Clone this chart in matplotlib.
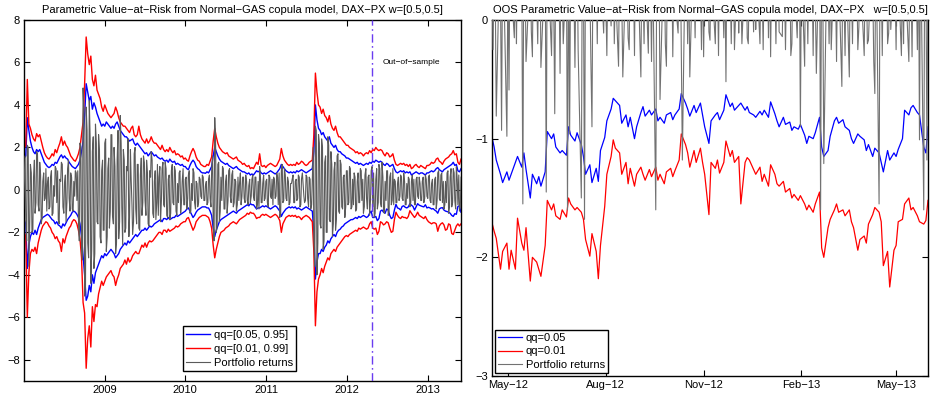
import numpy as np
import pandas as pd
import matplotlib
matplotlib.use('Agg')
import matplotlib.pyplot as plt
import matplotlib.dates as mdates
from matplotlib.ticker import FixedLocator, FuncFormatter

plt.rcParams['font.family'] = ['Liberation Sans', 'DejaVu Sans']
plt.rcParams['axes.unicode_minus'] = True

# ---------------- Left panel: weekly values (Fridays from 2008-01-04) ----------------
b_up = [
    # 2008
    1.5, 1.6, 3.4, 2.8,  2.3, 2.0, 1.8, 1.7, 1.9,  1.8, 1.9, 1.7, 1.5,  1.3, 1.2, 1.1, 1.05,
    1.1, 1.2, 1.15, 1.3, 1.25,  1.4, 1.55, 1.65, 1.5,  1.6, 1.5, 1.45, 1.3, 1.2,  1.1, 1.05, 1.0, 1.1,
    1.2, 1.4, 1.8, 2.3,  3.5, 5.0, 4.6, 4.2, 4.4,  3.8, 4.1, 3.9, 3.6,  3.4, 3.2, 3.0, 3.1,
    # 2009
    3.0, 3.2, 3.1, 3.0, 2.9,  3.0, 2.9, 3.1, 3.2,  3.0, 2.8, 2.7, 2.6,  2.5, 2.5, 2.4, 2.3,
    2.35, 2.4, 2.2, 2.1, 2.2,  2.1, 2.0, 1.9, 1.8,  1.7, 1.75, 1.6, 1.7, 1.8,  1.7, 1.6, 1.65, 1.55,
    1.5, 1.45, 1.5, 1.4,  1.35, 1.4, 1.3, 1.45, 1.35,  1.3, 1.35, 1.2, 1.25,  1.2, 1.15, 1.2, 1.1,
    # 2010
    1.1, 1.0, 0.95, 1.15, 1.3,  1.4, 1.3, 1.1, 1.0,  0.95, 0.85, 0.8, 0.8,  0.78, 0.85, 0.8, 0.95, 1.1,
    1.6, 2.0, 1.8, 1.6,  1.45, 1.35, 1.3, 1.25,  1.2, 1.25, 1.15, 1.1, 1.05,  1.0, 1.05, 1.1, 1.0,
    0.95, 0.9, 0.85, 0.85,  0.8, 0.75, 0.8, 0.7, 0.75,  0.7, 0.8, 0.9, 0.85,  0.9, 0.8, 0.75, 0.8, 0.75,
    # 2011
    0.8, 0.85, 0.9, 0.85,  0.8, 0.75, 0.8, 0.9,  1.0, 1.2, 1.1, 1.0,  0.9, 0.85, 0.8, 0.85, 0.8,
    0.85, 0.8, 0.9, 0.85,  0.9, 0.95, 0.9, 0.85,  0.8, 0.85, 0.9, 0.95, 1.0,  1.8, 4.0, 3.3, 2.9,
    2.8, 2.6, 2.7, 2.5, 2.4,  2.3, 2.5, 2.2, 2.1,  2.0, 2.1, 1.9, 1.8,  1.8, 1.7, 1.65, 1.6, 1.5,
    # 2012
    1.5, 1.45, 1.4, 1.35,  1.3, 1.25, 1.3, 1.2,  1.25, 1.2, 1.15, 1.2, 1.25,  1.2, 1.3, 1.25, 1.35,
    1.3, 1.4, 1.35, 1.3,  1.35, 1.3, 1.2, 1.15, 1.25,  1.2, 1.1, 1.15, 1.2,  1.0, 0.85, 0.8, 0.85, 0.9,
    0.85, 0.9, 0.8, 0.85,  0.8, 0.85, 0.7, 0.75,  0.8, 0.85, 0.8, 0.75, 0.8,  0.8, 0.75, 0.7, 0.8,
    # 2013
    0.8, 0.85, 0.9, 0.85,  0.9, 1.0, 1.05, 0.95,  0.9, 0.85, 0.95, 1.0, 1.05,  1.1, 1.15, 1.2, 1.3,
    1.15, 1.2, 0.9, 0.85, 1.0,
]

r_up = [
    # 2008
    1.95, 2.1, 5.2, 3.1,  2.9, 2.6, 2.4, 2.3, 2.65,  2.5, 2.6, 2.3, 2.0,  1.75, 1.6, 1.5, 1.45,
    1.55, 1.7, 1.6, 1.9, 1.75,  2.0, 2.2, 2.5, 2.1,  2.3, 2.1, 2.0, 1.8, 1.6,  1.5, 1.4, 1.35, 1.5,
    1.7, 2.0, 2.6, 3.2,  5.0, 7.2, 6.4, 5.9, 6.3,  5.2, 4.9, 5.4, 4.7,  4.5, 4.3, 3.9, 3.7,
    # 2009
    4.0, 3.8, 3.6, 3.5, 3.4,  3.5, 3.6, 3.9, 3.7,  3.4, 3.2, 3.1, 3.0,  3.0, 2.9, 2.8, 2.7,
    2.9, 3.0, 2.6, 2.5, 2.6,  3.0, 2.6, 2.4, 2.3,  2.2, 2.4, 2.2, 2.3, 2.5,  2.3, 2.2, 2.2, 2.1,
    2.0, 1.9, 2.1, 1.9,  1.8, 1.9, 1.8, 2.0, 1.85,  1.75, 1.85, 1.65, 1.7,  1.65, 1.55, 1.6, 1.45,
    # 2010
    1.5, 1.4, 1.35, 1.6, 1.8,  1.95, 1.8, 1.55, 1.4,  1.35, 1.2, 1.15, 1.1,  1.1, 1.2, 1.15, 1.35, 1.55,
    2.3, 2.9, 2.5, 2.2,  2.0, 1.9, 1.8, 1.75,  1.7, 1.75, 1.6, 1.55, 1.5,  1.45, 1.5, 1.55, 1.4,
    1.35, 1.3, 1.2, 1.25,  1.15, 1.1, 1.15, 1.0, 1.05,  1.0, 1.15, 1.3, 1.2,  1.7, 1.15, 1.1, 1.15, 1.05,
    # 2011
    1.15, 1.2, 1.25, 1.2,  1.15, 1.1, 1.15, 1.3,  1.45, 1.95, 1.6, 1.4,  1.3, 1.2, 1.15, 1.2, 1.15,
    1.2, 1.15, 1.3, 1.2,  1.25, 1.35, 1.3, 1.2,  1.15, 1.2, 1.3, 1.35, 1.4,  2.6, 5.5, 4.6, 4.0,
    3.9, 3.6, 3.8, 3.5, 3.4,  3.2, 3.5, 3.1, 2.9,  2.8, 3.0, 2.7, 2.5,  2.5, 2.4, 2.3, 2.2, 2.1,
    # 2012
    2.1, 2.0, 1.95, 1.9,  1.85, 1.75, 1.8, 1.7,  1.75, 1.7, 1.6, 1.7, 1.75,  1.7, 1.85, 1.75, 1.9,
    1.85, 2.0, 1.9, 1.85,  1.9, 1.85, 1.7, 1.6, 1.75,  1.7, 1.55, 1.6, 1.7,  1.4, 1.2, 1.15, 1.2, 1.25,
    1.2, 1.25, 1.15, 1.2,  1.1, 1.2, 1.0, 1.05,  1.15, 1.2, 1.1, 1.05, 1.15,  1.1, 1.05, 1.0, 1.15,
    # 2013
    1.15, 1.2, 1.3, 1.25,  1.3, 1.45, 1.5, 1.35,  1.3, 1.2, 1.35, 1.45, 1.5,  1.55, 1.65, 1.7, 1.85,
    1.65, 1.7, 1.3, 1.2, 1.45,
]

b_lo = [
    # 2008
    -1.4, -1.6, -3.7, -2.6,  -2.2, -2.0, -2.1, -1.9, -2.1,  -1.8, -1.6, -1.4, -1.3,  -1.25, -1.2, -1.15, -1.2,
    -1.3, -1.4, -1.45, -1.6, -1.5,  -1.65, -1.7, -1.8, -1.6,  -1.7, -1.55, -1.4, -1.3, -1.2,  -1.05, -1.0, -1.05, -1.15,
    -1.3, -1.6, -2.2, -3.1,  -4.0, -5.2, -5.0, -4.5, -4.8,  -4.0, -4.4, -3.9, -3.7,  -3.5, -3.3, -3.1, -3.2,
    # 2009
    -3.0, -3.1, -3.0, -2.9, -2.8,  -2.9, -3.0, -3.2, -3.1,  -3.0, -2.8, -2.7, -2.6,  -2.5, -2.6, -2.4, -2.5,
    -2.4, -2.3, -2.2, -2.1, -2.2,  -2.1, -2.0, -1.9, -1.9,  -1.8, -1.9, -1.8, -1.7, -1.75,  -1.7, -1.6, -1.55, -1.5,
    -1.45, -1.4, -1.5, -1.35,  -1.35, -1.4, -1.3, -1.4, -1.35,  -1.3, -1.3, -1.2, -1.25,  -1.2, -1.15, -1.1, -1.05,
    # 2010
    -1.0, -0.9, -0.85, -1.0, -1.15,  -1.3, -1.2, -1.05, -0.95,  -0.9, -0.85, -0.8, -0.8,  -0.8, -0.85, -0.85, -1.0, -1.2,
    -1.8, -2.2, -1.9, -1.7,  -1.5, -1.4, -1.35, -1.3,  -1.25, -1.2, -1.15, -1.1, -1.05,  -1.0, -1.05, -1.1, -1.0,
    -0.95, -0.9, -0.85, -0.8,  -0.75, -0.7, -0.75, -0.65, -0.7,  -0.7, -0.8, -0.9, -0.85,  -0.85, -0.8, -0.75, -0.8, -0.75,
    # 2011
    -0.8, -0.85, -0.9, -0.85,  -0.8, -0.75, -0.8, -0.9,  -1.0, -1.25, -1.1, -1.0,  -0.9, -0.85, -0.8, -0.85, -0.8,
    -0.85, -0.8, -0.9, -0.85,  -0.9, -0.95, -0.9, -0.85,  -0.8, -0.85, -0.9, -0.95, -1.0,  -2.0, -4.2, -3.4, -3.0,
    -3.0, -2.8, -2.9, -2.7, -2.6,  -2.4, -2.5, -2.3, -2.2,  -2.1, -2.2, -2.0, -1.9,  -1.85, -1.75, -1.7, -1.6, -1.55,
    # 2012
    -1.5, -1.45, -1.4, -1.4,  -1.35, -1.3, -1.35, -1.25,  -1.3, -1.25, -1.2, -1.25, -1.3,  -1.25, -1.1, -1.0, -1.3,
    -1.3, -1.25, -1.45, -1.35,  -1.0, -0.95, -1.05, -1.1, -0.9,  -0.95, -1.2, -1.35, -1.3,  -0.95, -0.68, -0.85, -0.88, -0.95,
    -0.78, -0.75, -0.82, -0.85,  -0.8, -0.65, -0.72, -0.78,  -0.95, -0.8, -0.65, -0.72, -0.75,  -0.78, -0.8, -0.7, -0.85,
    # 2013
    -0.82, -0.85, -0.9, -0.88,  -0.95, -1.0, -1.1, -0.9,  -0.85, -0.84, -0.95, -1.0, -1.02,  -1.05, -1.1, -1.2, -1.25,
    -1.12, -1.15, -0.78, -0.75, -1.05,
]

r_lo = [
    # 2008
    -2.0, -2.2, -6.0, -3.9,  -3.0, -2.8, -2.9, -2.7, -3.0,  -2.5, -2.2, -1.9, -1.7,  -1.6, -1.5, -1.55, -1.7,
    -1.8, -2.0, -2.1, -2.3, -2.2,  -2.4, -2.5, -2.9, -2.3,  -2.5, -2.2, -2.0, -1.8, -1.7,  -1.5, -1.4, -1.45, -1.6,
    -1.9, -2.3, -3.2, -5.3,  -5.8, -8.4, -7.0, -6.4, -7.4,  -5.5, -6.2, -5.4, -5.5,  -4.9, -4.6, -4.3, -4.5,
    # 2009
    -4.3, -4.1, -4.0, -3.9, -3.8,  -4.0, -4.1, -4.5, -4.2,  -4.0, -3.7, -3.6, -3.5,  -3.3, -3.5, -3.2, -3.4,
    -3.3, -3.1, -3.0, -2.9, -3.0,  -3.0, -2.8, -2.6, -2.7,  -2.5, -2.7, -2.5, -2.4, -2.45,  -2.4, -2.3, -2.2, -2.1,
    -2.0, -2.0, -2.1, -1.9,  -1.9, -2.0, -1.85, -1.95, -1.9,  -1.85, -1.8, -1.7, -1.75,  -1.7, -1.6, -1.55, -1.5,
    # 2010
    -1.5, -1.35, -1.3, -1.5, -1.7,  -1.9, -1.75, -1.5, -1.4,  -1.3, -1.25, -1.2, -1.2,  -1.2, -1.25, -1.3, -1.5, -1.8,
    -2.6, -3.2, -2.8, -2.5,  -2.2, -2.0, -1.95, -1.9,  -1.8, -1.75, -1.7, -1.6, -1.55,  -1.5, -1.55, -1.6, -1.5,
    -1.4, -1.35, -1.3, -1.25,  -1.2, -1.1, -1.15, -1.05, -1.1,  -1.1, -1.2, -1.35, -1.3,  -1.3, -1.2, -1.15, -1.2, -1.15,
    # 2011
    -1.2, -1.25, -1.3, -1.25,  -1.2, -1.15, -1.2, -1.3,  -1.45, -2.0, -1.6, -1.45,  -1.3, -1.25, -1.2, -1.25, -1.2,
    -1.25, -1.2, -1.3, -1.25,  -1.3, -1.4, -1.3, -1.25,  -1.2, -1.25, -1.3, -1.4, -1.5,  -2.9, -6.4, -4.8, -4.2,
    -4.0, -3.7, -3.9, -3.6, -3.4,  -3.2, -3.3, -3.0, -2.9,  -2.8, -2.9, -2.7, -2.6,  -2.5, -2.4, -2.3, -2.2, -2.15,
    # 2012
    -2.2, -2.1, -2.05, -2.0,  -1.95, -1.9, -1.95, -1.8,  -1.85, -1.8, -1.75, -1.8, -1.85,  -1.8, -1.6, -1.5, -1.8,
    -1.85, -1.8, -2.1, -1.95,  -1.5, -1.55, -1.65, -1.6, -1.5,  -1.55, -1.8, -2.0, -1.95,  -1.4, -1.05, -1.2, -1.3, -1.35,
    -1.25, -1.3, -1.3, -1.35,  -1.25, -0.98, -1.1, -1.2,  -1.3, -1.2, -1.05, -1.2, -1.25,  -1.3, -1.35, -1.25, -1.4,
    # 2013
    -1.5, -1.55, -1.6, -1.55,  -1.55, -1.6, -1.95, -1.7,  -1.6, -1.55, -1.65, -1.9, -1.85,  -1.6, -1.65, -2.05, -2.1,
    -1.9, -1.7, -1.6, -1.7, -1.6,
]

# portfolio returns sampled on Fridays
ret_fri = [
    # 2008
    0.5, -1.4, 2.1, -3.6,  1.2, -2.0, 0.6, -1.1, 1.8,  -0.7, 1.3, -1.6, 0.4,  -0.5, 1.0, 0.3, -0.9,
    0.6, -1.2, 0.2, 1.1, -0.6,  -1.4, 0.5, 1.3, -0.8,  0.3, -1.5, 1.0, -0.4, 0.8,  -0.9, 0.4, 0.9, -0.5,
    -1.3, 2.2, -2.8, 4.8,  -5.0, 3.9, -2.5, 4.2, -4.4,  1.8, -3.7, 3.1, -1.5,  2.6, -2.2, 0.9, -1.9,
    # 2009
    2.2, -2.9, 1.0, -1.8, 2.6,  -1.2, 2.0, -3.0, 1.4,  -2.3, 3.5, -0.8, 1.9,  -2.0, 1.1, 2.4, -1.3,
    0.6, -2.1, 1.7, -0.9, 1.2,  -1.8, 0.7, -1.2, 1.6,  -0.5, 1.4, -1.6, 0.9, 1.8,  -1.1, 0.4, -1.4, 1.2,
    0.6, -1.5, 1.0, -0.7,  1.3, -1.2, 0.5, -1.4, 0.9,  -0.6, 1.1, -1.0, 0.3,  0.8, -1.1, 0.4, -0.7,
    # 2010
    0.5, -0.9, 0.7, -1.1, 0.3,  1.0, -0.6, 0.4, -0.8,  0.6, -0.3, 0.7, -0.5,  0.2, -0.7, 0.5, -0.4, 0.9,
    -1.4, 3.4, -2.0, 1.2,  -1.5, 0.6, 1.1, -0.9,  0.4, -1.1, 0.9, -0.3, 0.7,  -0.8, 0.5, -1.0, 0.6,
    0.3, -0.7, 0.6, -0.4,  0.7, -0.5, 0.2, -0.6, 0.5,  -0.3, 0.6, -0.9, 0.4,  1.1, -0.6, 0.3, -0.5, 0.4,
    # 2011
    -0.6, 0.7, -0.3, 0.5,  0.6, -0.4, 0.8, -0.7,  -1.3, 0.9, -0.6, 1.0,  -0.4, 0.6, -0.7, 0.3, 0.5,
    -0.6, 0.4, -0.5, 0.7,  -0.8, 0.5, 0.3, -0.6,  0.7, -0.4, 0.6, -0.9, 0.4,  -2.3, 3.0, -4.0, 2.6,
    -1.6, 2.4, -2.8, 1.3, -2.0,  2.5, -1.4, 1.8, -2.2,  0.9, -1.9, 1.6, -1.0,  1.4, -0.8, 0.6, -1.3, 0.9,
    # 2012
    -0.7, 1.1, -0.9, 0.5,  0.8, -1.0, 0.4, -0.6,  1.0, -0.5, -1.1, 0.7, -0.4,  0.6, -1.2, 0.9, -0.8,
    -1.3, 0.5, -0.9, 1.2,  -0.6, 1.3, -1.0, 0.4, 0.9,  -1.2, 0.6, -0.7, 1.0,  0.5, -0.6, 0.3, -0.5, 0.7,
    -0.4, 0.8, -0.7, 0.3,  0.6, -0.8, 0.4, -0.5,  -0.7, 0.5, -0.3, 0.6, -0.5,  0.4, -0.6, 0.7, -0.3,
    # 2013
    0.6, -0.5, 0.3, -0.7,  0.5, -0.9, 0.8, -0.4,  0.7, -0.6, -0.9, 0.4, 0.8,  -1.1, 0.6, -0.8, 1.0,
    -0.5, 1.1, -0.7, -1.0, 0.6,
]

# portfolio returns sampled on Tuesdays
ret_tue = [
    # 2008
    -0.9, 1.6, -2.4, 2.0,  -1.5, 0.8, -1.9, 1.4, -0.6,  1.7, -1.0, 0.7, -1.3,  0.8, -0.4, -1.0, 0.6,
    -0.8, 0.9, -1.1, -0.3, 1.0,  0.9, -1.6, 0.4, 1.2,  -1.1, 0.7, -0.6, 1.4, -1.0,  0.6, -1.0, -0.3, 0.8,
    0.9, -2.4, 2.0, -3.3,  3.6, -4.5, 2.8, -3.2, 2.4,  -2.8, 2.5, -3.0, 2.2,  -1.6, 1.9, -2.5, 1.4,
    # 2009
    -1.9, 2.4, -2.2, 1.5, -1.0,  2.6, -1.6, 1.1, -2.5,  2.8, -1.5, 2.2, -2.6,  1.4, -1.8, 0.9, -2.2,
    1.9, -0.7, -1.5, 2.0, -1.6,  1.2, -1.9, 1.5, -0.6,  1.3, -1.2, 0.8, -1.7, 0.6,  1.4, -1.3, 0.9, -0.6,
    -1.2, 1.1, -0.5, 1.3,  -0.8, 1.0, -1.3, 0.7, -1.1,  1.2, -0.7, 0.9, -1.2,  -0.6, 0.9, -0.5, 1.0,
    # 2010
    -0.7, 0.6, -0.4, 0.9, -1.0,  -0.5, 0.8, -0.9, 0.3,  -0.6, 0.5, -0.4, 0.6,  -0.5, 0.4, -0.6, 0.7, -0.8,
    1.6, -2.4, 2.1, -1.7,  1.3, -1.0, -0.5, 1.0,  -0.9, 0.7, -0.5, 1.0, -0.6,  0.9, -0.6, 0.4, -0.7,
    -0.5, 0.8, -0.3, 0.6,  -0.6, 0.4, -0.7, 0.5, -0.3,  0.7, -0.5, 0.6, -0.7,  -0.9, 0.5, -0.6, 0.7, -0.4,
    # 2011
    0.5, -0.8, 0.6, -0.4,  -0.7, 0.5, -0.3, 0.6,  0.8, -1.1, 1.2, -0.5,  0.7, -0.5, 0.4, -0.6, 0.3,
    0.7, -0.6, 0.5, -0.4,  0.6, -0.7, 0.8, -0.3,  -0.5, 0.6, -0.8, 0.5, -0.7,  2.0, -3.6, 2.8, -2.5,
    2.2, -1.8, 2.0, -2.4, 1.6,  -2.0, 2.1, -1.5, 1.2,  -1.6, 1.3, -1.4, 1.7,  -1.1, 1.2, -0.9, 0.7, -0.8,
    # 2012
    0.9, -0.6, 1.0, -0.8,  -0.7, 0.6, -0.9, 0.8,  -0.6, 0.9, 0.5, -0.8, 1.0,  -0.9, 0.7, -0.5, 1.1,
    0.8, -1.1, 1.0, -0.6,  1.0, -0.8, 0.6, -1.1, -0.5,  0.9, -1.0, 0.8, -0.5,  -0.7, 0.4, -0.6, 0.6, -0.3,
    0.6, -0.5, 0.4, -0.7,  -0.4, 0.5, -0.6, 0.7,  0.5, -0.7, 0.6, -0.4, 0.3,  -0.5, 0.6, -0.4, 0.5,
    # 2013
    -0.4, 0.7, -0.6, 0.5,  -0.7, 0.6, -0.5, 0.9,  -0.5, 0.8, 0.4, -0.7, -0.6,  0.9, -0.8, 1.0, -0.6,
    0.8, -0.9, 0.5, 0.7, -0.8,
]

# ---------------- Right panel: out-of-sample (from 2012-04-16) ----------------
# lower VaR lines, every second business day
b_oos = [
    -0.99, -1.07, -1.18, -1.30, -1.37, -1.28, -1.35, -1.30, -1.20, -1.15,
    -1.24, -1.12, -1.26, -1.50, -1.30, -1.38, -1.32, -1.40, -1.28, -0.94,
    -1.00, -0.96, -1.07, -1.12, -1.10, -1.14, -0.90, -0.97, -1.02, -0.95,
    -1.05, -1.15, -1.30, -1.22, -1.37, -1.25, -1.36, -1.10, -0.99, -0.85,
    -0.75, -0.66, -0.68, -0.72, -0.87, -0.80, -0.90, -0.82, -1.00, -0.90,
    -0.78, -0.73, -0.81, -0.76, -0.80, -0.75, -0.85, -0.82, -0.87, -0.80,
    -0.78, -0.84, -0.80, -0.75, -0.62, -0.70, -0.75, -0.81, -0.72, -0.78,
    -0.70, -0.80, -0.90, -1.04, -0.85, -0.80, -0.78, -0.84, -0.76, -0.63,
    -0.73, -0.70, -0.76, -0.72, -0.70, -0.76, -0.73, -0.78, -0.80, -0.82,
    -0.77, -0.80, -0.76, -0.82, -0.69, -0.79, -0.85, -0.90, -0.82, -0.88,
    -0.86, -0.93, -0.90, -0.92, -0.88, -0.97, -1.04, -0.98, -1.00, -0.95,
    -0.82, -1.07, -1.15, -1.10, -0.98, -0.85, -0.82, -0.87, -0.84, -0.90,
    -0.93, -1.00, -1.04, -0.96, -0.98, -1.01, -1.10, -1.05, -1.15, -1.08,
    -1.12, -1.20, -1.28, -1.10, -1.18, -1.12, -1.15, -1.09, -1.00, -0.76,
    -0.80, -0.74, -0.72, -0.78, -0.80, -1.07, -1.12, -0.90,
]
r_oos = [
    -1.71, -1.78, -1.84, -2.10, -1.95, -1.88, -2.10, -1.94, -2.10, -1.67,
    -1.88, -1.94, -1.75, -2.20, -2.00, -2.04, -2.10, -2.16, -1.90, -1.52,
    -1.60, -1.55, -1.65, -1.68, -1.60, -1.66, -1.50, -1.55, -1.60, -1.58,
    -1.62, -1.68, -1.85, -1.99, -1.80, -1.95, -2.18, -1.90, -1.57, -1.30,
    -1.15, -1.01, -1.08, -1.12, -1.30, -1.20, -1.38, -1.25, -1.40, -1.30,
    -1.24, -1.30, -1.35, -1.26, -1.32, -1.24, -1.35, -1.30, -1.38, -1.28,
    -1.25, -1.32, -1.27, -1.18, -0.96, -1.05, -1.12, -1.24, -1.10, -1.20,
    -1.08, -1.20, -1.30, -1.64, -1.20, -1.25, -1.18, -1.29, -1.20, -1.02,
    -1.15, -1.10, -1.20, -1.15, -1.55, -1.20, -1.16, -1.18, -1.26, -1.30,
    -1.24, -1.36, -1.30, -1.40, -1.22, -1.30, -1.38, -1.40, -1.36, -1.45,
    -1.42, -1.50, -1.47, -1.52, -1.48, -1.55, -1.60, -1.56, -1.62, -1.55,
    -1.45, -1.92, -2.00, -1.75, -1.68, -1.60, -1.55, -1.62, -1.60, -1.65,
    -1.60, -1.70, -1.75, -1.94, -1.85, -1.82, -1.88, -1.72, -1.64, -1.58,
    -1.62, -1.70, -2.07, -1.95, -2.25, -1.94, -1.90, -1.70, -1.68, -1.55,
    -1.50, -1.60, -1.58, -1.65, -1.70, -1.72, -1.69, -1.52,
]
# daily portfolio returns (business days)
ret_oos = [
    0.4, -0.25, 0.6, 0.3, -0.81, 0.5, 0.2, -0.93, 0.7, 0.35,
    -0.98, 0.4, -0.59, 0.8, 0.3, -0.15, 0.5, -0.2, 0.6, 0.25,
    0.4, -1.55, 0.9, 0.5, -0.35, 0.3, 0.6, -0.1, -0.31, 0.7,
    0.2, -0.2, 0.5, 0.8, -0.4, 0.3, 0.6, -1.45, 0.9, 0.4,
    -0.3, 0.5, 0.2, -0.79, 0.6, 0.35, -0.45, 0.7, 0.3, -0.2,
    0.5, -1.6, 0.8, -0.96, 0.6, 0.3, -0.4, 0.5, 0.7, -0.25,
    -1.5, 0.9, 0.4, -1.68, 0.8, 0.5, 0.3, -0.35, -0.9, 0.6,
    0.4, -0.2, 0.7, 0.3, 0.5, -0.11, 0.6, 0.2, -0.3, 0.5,
    -0.05, 0.4, 0.7, -0.2, 0.3, -0.39, 0.6, 0.5, 0.2, -0.48,
    0.5, 0.3, -0.15, -0.25, 0.6, 0.4, -0.3, 0.7, 0.2, 0.5,
    -0.48, 0.6, 0.3, -0.2, 0.5, -0.28, 0.7, 0.4, -0.35, 0.6,
    -1.6, 0.8, 0.3, 0.5, -0.67, 0.4, 0.6, -0.2, -0.39, 0.5,
    0.3, 0.6, -0.31, 0.4, 0.2, -0.11, 0.5, 0.7, -0.25, -1.18,
    0.8, 0.4, -0.2, 0.5, -0.48, 0.6, 0.3, -0.15, 0.5, 0.4,
    0.3, -0.25, 0.6, -0.31, 0.4, 0.5, -0.1, -0.17, 0.6, 0.3,
    -0.2, 0.5, 0.4, -0.3, 0.6, 0.2, -0.15, 0.5, -0.52, 0.7,
    0.3, -0.2, 0.5, 0.4, -0.25, 0.6, -0.11, 0.4, 0.3, -0.2,
    0.5, 0.6, -0.15, -0.2, 0.4, 0.3, -0.1, 0.5, -0.08, 0.4,
    -0.2, 0.6, 0.3, -0.25, 0.5, 0.4, -0.15, 0.6, -0.31, 0.5,
    0.3, -0.2, 0.4, 0.6, -0.1, -0.14, 0.5, 0.3, -0.25, 0.4,
    0.6, -0.3, -0.2, 0.5, 0.4, -0.15, 0.3, 0.6, -0.9, 0.5,
    -0.39, 0.7, 0.3, -0.2, 0.5, 0.4, -0.3, 0.6, 0.2, -0.45,
    0.8, -1.6, 0.9, 0.4, -1.21, 0.6, 0.3, -0.2, 0.5, -0.25,
    0.6, 0.3, -0.35, 0.5, 0.4, -0.56, 0.7, 0.2, -0.3, 0.5,
    -0.48, 0.6, 0.3, -0.2, 0.5, 0.4, -0.25, -0.06, 0.6, 0.3,
    -0.3, 0.5, 0.4, -0.2, -0.17, 0.6, 0.3, -0.35, -0.62, 0.8,
    -1.55, 0.9, 0.4, -0.3, 0.6, 0.5, -0.2, -0.11, 0.4, -0.08,
    0.5, 0.3, -0.25, 0.6, 0.4, -0.3, 0.5, -0.2, 0.6, 0.3,
    -0.35, 0.5, 0.4, -0.31, 0.6, 0.3, -0.25, 0.7, -1.01, 0.8,
    -1.6, 0.9, 0.5, -1.18, 0.6,
]

left_title = 'Parametric Value\u2212at\u2212Risk from Normal\u2212GAS copula model, DAX\u2212PX w=[0.5,0.5]'
right_title = 'OOS Parametric Value\u2212at\u2212Risk from Normal\u2212GAS copula model, DAX\u2212PX   w=[0.5,0.5]'
left_labels = ['qq=[0.05, 0.95]', 'qq=[0.01, 0.99]', 'Portfolio returns']
right_labels = ['qq=0.05', 'qq=0.01', 'Portfolio returns']
oos_label = 'Out\u2212of\u2212sample'
oos_date = '2012-04-25'
oos_start = '2012-04-16'
right_ticks = ['2012-05-01', '2012-08-01', '2012-11-01', '2013-02-01', '2013-05-01']

BLUE = '#0000ff'
RED = '#ff0000'
GRAY_L = '#5a5a5a'
GRAY_R = '#727272'
OOSC = '#6a3cf0'


def weekly(n):
    return pd.date_range('2008-01-04', periods=n, freq='W-FRI')


ret_series = pd.concat([
    pd.Series(ret_fri, index=weekly(len(ret_fri))),
    pd.Series(ret_tue, index=weekly(len(ret_tue)) - pd.Timedelta(days=3)),
]).sort_index()

fig = plt.figure(figsize=(9.31, 4.0), dpi=100)
ax1 = fig.add_axes([24 / 931, 19 / 400, 437 / 931, 361 / 400])
ax2 = fig.add_axes([492 / 931, 24 / 400, 436 / 931, 356 / 400])

# ---- left ----
ax1.plot(weekly(len(b_up)), b_up, color=BLUE, lw=1.0, label=left_labels[0], zorder=2)
ax1.plot(weekly(len(b_lo)), b_lo, color=BLUE, lw=1.0, zorder=2)
ax1.plot(weekly(len(r_up)), r_up, color=RED, lw=1.0, label=left_labels[1], zorder=2)
ax1.plot(weekly(len(r_lo)), r_lo, color=RED, lw=1.0, zorder=2)
ax1.plot(ret_series.index, ret_series.values, color=GRAY_L, lw=0.8,
         label=left_labels[2], zorder=3)
ax1.axvline(pd.Timestamp(oos_date), color=OOSC, lw=1.0, ls=(0, (6, 2.5, 1.2, 2.5)), zorder=4)
ax1.text(pd.Timestamp('2012-06-12'), 6.0, oos_label, fontsize=6, va='center', ha='left')

ax1.set_xlim(pd.Timestamp('2008-01-03'), pd.Timestamp('2013-05-31'))
ax1.set_ylim(-9, 8)
ax1.set_yticks(np.arange(-8, 9, 2))
ax1.xaxis.set_major_locator(mdates.YearLocator())
ax1.xaxis.set_major_formatter(mdates.DateFormatter('%Y'))
ax1.set_title(left_title, fontsize=8, pad=5)
leg1 = ax1.legend(loc='lower left', bbox_to_anchor=(0.364, 0.028), fontsize=8,
                  frameon=True, fancybox=False, edgecolor='black', framealpha=1,
                  borderpad=0.3, labelspacing=0.35, handlelength=2.1,
                  handletextpad=0.35, borderaxespad=0)
leg1.get_frame().set_linewidth(1.0)

# ---- right ----
ax2.plot(pd.bdate_range(oos_start, periods=len(b_oos), freq='2B'), b_oos,
         color=BLUE, lw=0.9, label=right_labels[0], zorder=2)
ax2.plot(pd.bdate_range(oos_start, periods=len(r_oos), freq='2B'), r_oos,
         color=RED, lw=0.9, label=right_labels[1], zorder=2)
ax2.plot(pd.bdate_range(oos_start, periods=len(ret_oos)), ret_oos, color=GRAY_R,
         lw=0.8, label=right_labels[2], zorder=3)
ax2.set_xlim(pd.Timestamp(oos_start), pd.Timestamp('2013-05-31'))
ax2.set_ylim(-3, 0)
ax2.set_yticks([0, -1, -2, -3])
tick_dates = [pd.Timestamp(t) for t in right_ticks]
ax2.xaxis.set_major_locator(FixedLocator(mdates.date2num(tick_dates)))
ax2.xaxis.set_major_formatter(FuncFormatter(
    lambda v, p: mdates.num2date(v).strftime('%b') + '\u2212' + mdates.num2date(v).strftime('%y')))
ax2.set_title(right_title, fontsize=8, pad=5)
leg2 = ax2.legend(loc='lower left', bbox_to_anchor=(0.007, 0.008), fontsize=8,
                  frameon=True, fancybox=False, edgecolor='black', framealpha=1,
                  borderpad=0.3, labelspacing=0.3, handlelength=2.1,
                  handletextpad=0.35, borderaxespad=0)
leg2.get_frame().set_linewidth(1.0)

for ax in (ax1, ax2):
    ax.tick_params(direction='in', top=True, right=True, length=4, width=0.8,
                   labelsize=8, pad=3, colors='black')
    for s in ax.spines.values():
        s.set_linewidth(1.0)
        s.set_color('black')

fig.savefig('out.png', dpi=100)
